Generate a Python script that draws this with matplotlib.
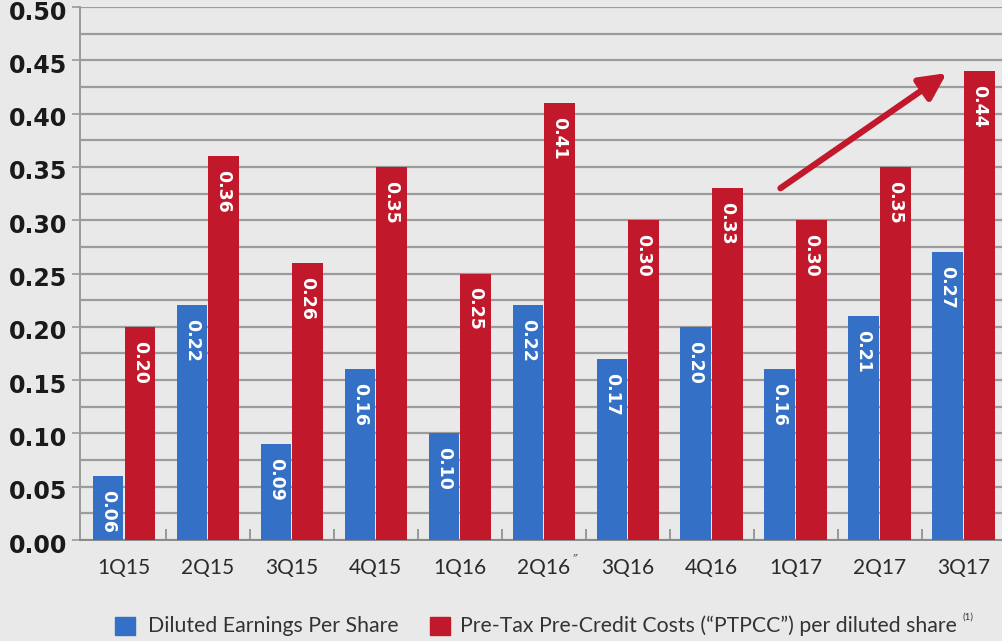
import matplotlib
matplotlib.use("Agg")
import matplotlib.pyplot as plt
from matplotlib.patches import Rectangle
import numpy as np

quarters = ["1Q15", "2Q15", "3Q15", "4Q15", "1Q16", "2Q16",
            "3Q16", "4Q16", "1Q17", "2Q17", "3Q17"]
footnoted_quarter = "2Q16"
diluted_eps = [0.06, 0.22, 0.09, 0.16, 0.10, 0.22, 0.17, 0.20, 0.16, 0.21, 0.27]
ptpcc = [0.20, 0.36, 0.26, 0.35, 0.25, 0.41, 0.30, 0.33, 0.30, 0.35, 0.44]
y_ticks = [0.00, 0.05, 0.10, 0.15, 0.20, 0.25, 0.30, 0.35, 0.40, 0.45, 0.50]

BLUE = "#3470c6"
RED = "#c2182b"
BG = "#e9e9e9"
GRID = "#9c9c9c"

fig = plt.figure(figsize=(10.03, 6.41), dpi=100)
fig.patch.set_facecolor(BG)
ax = fig.add_axes([80 / 1003, 101 / 641, 923 / 1003, 533 / 641])
ax.set_facecolor(BG)

x = np.arange(len(quarters))
w = 0.36
gap = 0.02
b1 = ax.bar(x - w / 2 - gap / 2, diluted_eps, width=w, color=BLUE, zorder=3)
b2 = ax.bar(x + w / 2 + gap / 2, ptpcc, width=w, color=RED, zorder=3)

for bars, vals in ((b1, diluted_eps), (b2, ptpcc)):
    for r, v in zip(bars, vals):
        ax.text(r.get_x() + r.get_width() / 2, v - 0.013, f"{v:.2f}",
                rotation=270, ha="center", va="top", color="white",
                fontsize=12.5, fontweight="bold", family="DejaVu Sans", zorder=4)

ax.set_xlim(-0.52, len(quarters) - 0.53)
ax.set_ylim(0, 0.50)
ax.set_yticks(y_ticks)
ax.set_yticklabels([])
# y labels drawn by hand so they can sit slightly below their gridlines
for t in y_ticks:
    ax.annotate(f"{t:.2f}", xy=(0, t), xycoords=("axes fraction", "data"),
                xytext=(-9, -4), textcoords="offset points", ha="right",
                va="center", fontsize=17, fontweight="bold", color="#1a1a1a",
                annotation_clip=False)
ax.set_yticks(np.arange(0, 0.5001, 0.025), minor=True)
ax.grid(axis="y", which="both", color=GRID, linewidth=1.6, zorder=1)
ax.set_xticks(x)
ax.set_xticklabels(quarters, fontsize=15, color="#2a2a2a", family="Lato")
ax.set_xticks(x[:-1] + 0.5, minor=True)
ax.tick_params(axis="x", which="major", length=0, pad=13)
ax.tick_params(axis="x", which="minor", length=8, direction="in",
               color="#8a8a8a", width=1.2)
ax.tick_params(axis="y", which="major", length=6, color="#9a9a9a",
               width=1.2, pad=5)
ax.tick_params(axis="y", which="minor", length=0)

# footnote mark on the 2Q16 label
fi = quarters.index(footnoted_quarter)
ax.annotate("\u2033", xy=(fi, 0), xycoords=("data", "axes fraction"),
            xytext=(21, -14), textcoords="offset points", fontsize=10,
            color="#555555", family="DejaVu Sans", ha="left", va="center")

for s in ("top", "right"):
    ax.spines[s].set_visible(False)
ax.spines["left"].set_color("#9a9a9a")
ax.spines["left"].set_linewidth(1.4)
ax.spines["bottom"].set_color("#8a8a8a")
ax.spines["bottom"].set_linewidth(1.4)

ax.annotate("", xy=(9.80, 0.438), xytext=(7.82, 0.330),
            arrowprops=dict(arrowstyle="-|>,head_length=1.6,head_width=0.8",
                            color=RED, lw=4.5, shrinkA=0, shrinkB=0),
            zorder=5)

# legend row
fig.patches.append(Rectangle((115 / 1003, 6 / 641), 20 / 1003, 18 / 641,
                             transform=fig.transFigure, color=BLUE))
fig.text(148 / 1003, 15 / 641, "Diluted Earnings Per Share", fontsize=15.3,
         color="#333333", family="Lato", va="center", ha="left")
fig.patches.append(Rectangle((430 / 1003, 6 / 641), 20 / 1003, 18 / 641,
                             transform=fig.transFigure, color=RED))
fig.text(460 / 1003, 15 / 641,
         "Pre-Tax Pre-Credit Costs (\u201cPTPCC\u201d) per diluted share",
         fontsize=15.3, color="#333333", family="Lato", va="center", ha="left")
fig.text(963 / 1003, 24 / 641, "(1)", fontsize=7, color="#333333",
         family="Lato", va="center", ha="left")

fig.savefig("out.png", dpi=100, facecolor=BG)
